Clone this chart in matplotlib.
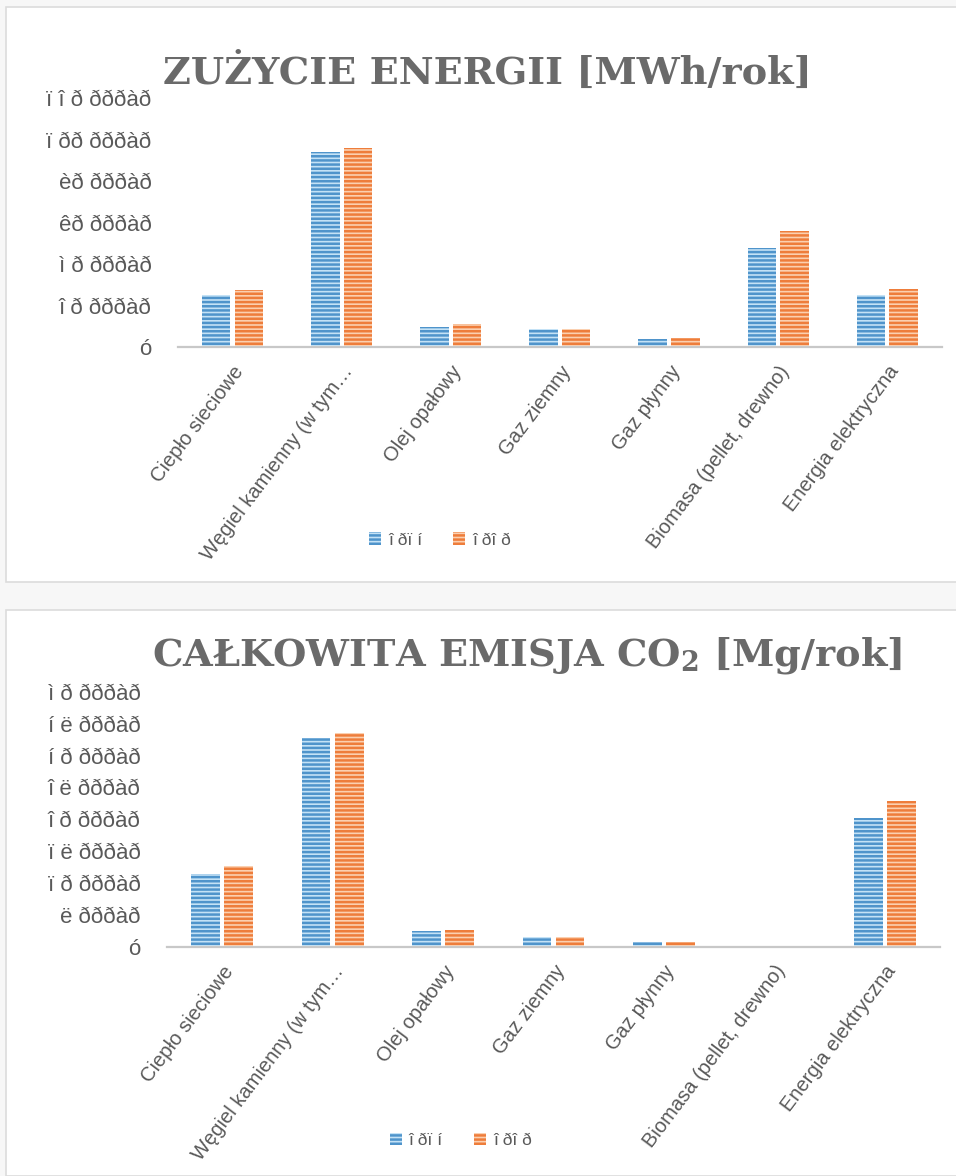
import matplotlib.pyplot as plt
from matplotlib.patches import Rectangle
from matplotlib.transforms import ScaledTranslation
import numpy as np

# Kategorie nośników energii
categories = ['Ciepło sieciowe', 'Węgiel kamienny (w tym…', 'Olej opałowy', 'Gaz ziemny',
              'Gaz płynny', 'Biomasa (pellet, drewno)', 'Energia elektryczna']
series_labels = ['î ðï í', 'î ðî ð']

# Zużycie energii [MWh/rok]
energy_2013 = [25100, 93800, 9700, 8500, 4000, 47800, 24900]
energy_2020 = [27600, 96000, 11000, 8750, 4300, 56000, 28100]
energy_ticks = [0, 20000, 40000, 60000, 80000, 100000, 120000]
energy_ticklabels = ['ó', 'î ð ðððàð', 'ì ð ðððàð', 'êð ðððàð', 'èð ðððàð',
                     'ï ðð ðððàð', 'ï î ð ðððàð']

# Emisja CO2 [Mg/rok]
co2_2013 = [11450, 32800, 2500, 1500, 800, 0, 20200]
co2_2020 = [12600, 33500, 2600, 1550, 800, 0, 22800]
co2_ticks = [0, 5000, 10000, 15000, 20000, 25000, 30000, 35000, 40000]
co2_ticklabels = ['ó', 'ë ðððàð', 'ï ð ðððàð', 'ï ë ðððàð', 'î ð ðððàð',
                  'î ë ðððàð', 'í ð ðððàð', 'í ë ðððàð', 'ì ð ðððàð']

blue_light, blue_dark = '#c4e2f6', '#4f94cb'
orange_light, orange_dark = '#fbd0b0', '#ee7d3b'
text_gray = '#595959'

plt.rcParams['font.family'] = ['Liberation Sans', 'DejaVu Sans']
plt.rcParams['hatch.linewidth'] = 1.8
plt.rcParams['mathtext.fontset'] = 'dejavuserif'

fig = plt.figure(figsize=(9.56, 11.76), dpi=100)
fig.patch.set_facecolor('#f7f7f7')

# ramki paneli
for y0, h in [(0.505, 0.489), (0.0, 0.481)]:
    fig.add_artist(Rectangle((0.006, y0), 1.0, h, transform=fig.transFigure,
                             facecolor='white', edgecolor='#dcdcdc', lw=1.2, zorder=0))


def draw_panel(rect, v1, v2, ticks, ticklabels, title, title_x, title_y, legend_xy):
    ax = fig.add_axes(rect)
    ax.set_facecolor('none')
    x = np.arange(len(categories))
    w = 0.26
    ax.bar(x - 0.15, v1, w, facecolor=blue_light, edgecolor=blue_dark,
           hatch='----', linewidth=0, label=series_labels[0])
    ax.bar(x + 0.15, v2, w, facecolor=orange_light, edgecolor=orange_dark,
           hatch='----', linewidth=0, label=series_labels[1])
    ax.set_xlim(-0.5, len(categories) - 0.5)
    ax.set_ylim(ticks[0], ticks[-1])
    ax.set_yticks(ticks)
    ax.set_yticklabels(ticklabels, fontsize=16, color=text_gray)
    ax.set_xticks(x)
    ax.set_xticklabels(categories, rotation=53, ha='right', rotation_mode='anchor',
                       fontsize=14.5, color=text_gray)
    # etykiety kategorii lekko w lewo od środka grupy
    shift = ScaledTranslation(-9 / 72, 0, fig.dpi_scale_trans)
    for lbl in ax.get_xticklabels():
        lbl.set_transform(lbl.get_transform() + shift)
    ax.tick_params(axis='y', length=0, pad=19)
    ax.tick_params(axis='x', length=0, pad=11)
    for s in ['top', 'right', 'left']:
        ax.spines[s].set_visible(False)
    ax.spines['bottom'].set_color('#c8c8c8')
    ax.spines['bottom'].set_linewidth(1.6)
    fig.text(title_x, title_y, title, ha='center', va='center', fontsize=27.5,
             fontweight='bold', family='DejaVu Serif', color='#6a6a6a')
    ax.legend(loc='center', bbox_to_anchor=legend_xy, ncol=2, frameon=False,
              fontsize=12.5, labelcolor=text_gray, handlelength=0.7, handleheight=0.7,
              columnspacing=1.8, handletextpad=0.4)
    return ax


draw_panel([0.1862, 0.7049, 0.799, 0.2117], energy_2013, energy_2020,
           energy_ticks, energy_ticklabels, 'ZUŻYCIE ENERGII [MWh/rok]',
           0.510, 0.9388, (0.343, -0.775))
draw_panel([0.1747, 0.195, 0.8086, 0.2166], co2_2013, co2_2020,
           co2_ticks, co2_ticklabels, 'CAŁKOWITA EMISJA CO$_\\mathbf{2}$ [Mg/rok]',
           0.551, 0.443, (0.38, -0.76))

fig.savefig('out.png', dpi=100, facecolor=fig.get_facecolor())
